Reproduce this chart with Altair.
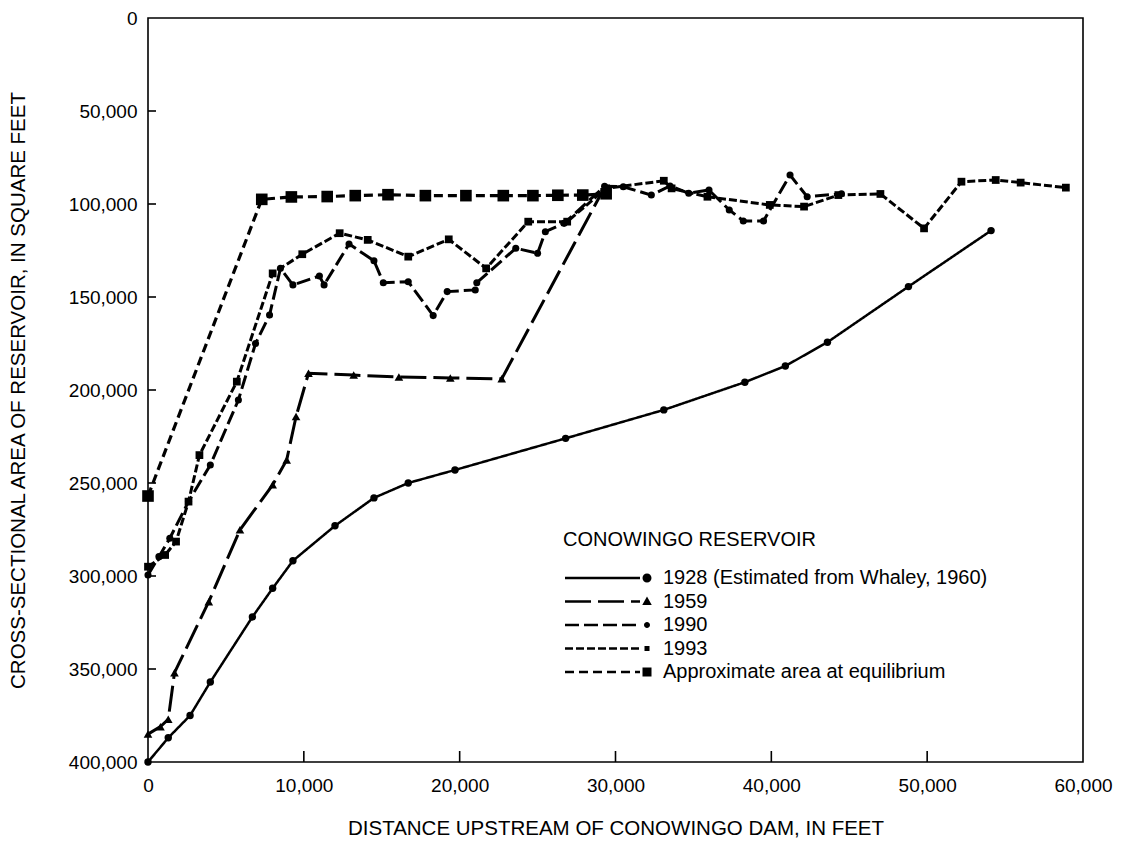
import altair as alt
import pandas as pd

# ---------------- data ----------------
names = [
    "1928 (Estimated from Whaley, 1960)",
    "1959",
    "1990",
    "1993",
    "Approximate area at equilibrium",
]

x1928 = [0, 1300, 2700, 4000, 6700, 8000, 9300, 12000, 14500, 16700, 19700,
         26800, 33100, 38300, 40900, 43600, 48800, 54100]
y1928 = [400000, 387000, 375000, 357000, 322000, 306600, 291800, 273000, 258000,
         250000, 243000, 226000, 210700, 195800, 187100, 174300, 144400, 114300]

x1959 = [0, 800, 1300, 1700, 3900, 5900, 8000, 8900, 9500, 10300, 13200, 16100,
         19400, 22700, 29300]
y1959 = [385000, 381000, 377000, 352000, 313800, 275200, 251000, 237600, 214300,
         191000, 192000, 193000, 193500, 194000, 91000]

x1990 = [0, 700, 1400, 2600, 4000, 5800, 6900, 7800, 8500, 9300, 11000, 11300,
         12900, 14500, 15100, 16700, 18300, 19200, 21000, 21100, 23600, 25000,
         25500, 26700, 29300, 30500, 32300, 33500, 34700, 36000, 37300, 38200,
         39500, 41200, 42300, 44500]
y1990 = [299500, 289600, 279700, 260000, 240300, 205400, 175000, 159700, 134600,
         143500, 138700, 143500, 121500, 130500, 142300, 141800, 160000, 147100,
         146200, 142300, 123800, 126500, 114900, 110400, 90500, 90700, 95200,
         90300, 94200, 92500, 103200, 109100, 109100, 84400, 96100, 94500]

x1993 = [0, 1100, 1800, 2600, 3300, 5700, 8000, 9900, 12300, 14100, 16700, 19300,
         21700, 24400, 26900, 29400, 33100, 33600, 35900, 39900, 42100, 44300,
         47000, 49800, 52200, 54400, 56000, 58900]
y1993 = [295000, 288700, 281500, 260000, 235000, 195500, 137300, 127000, 115700,
         119300, 128300, 119000, 134600, 109500, 109500, 91600, 87500, 91600,
         96100, 100500, 101400, 95200, 94600, 113100, 88000, 87100, 88500, 91200]

xEq = [0, 7300, 9200, 11500, 13300, 15400, 17800, 20400, 22800, 24700, 26300,
       27900, 29400]
yEq = [257000, 97500, 96200, 96000, 95500, 95000, 95500, 95500, 95500, 95500,
       95300, 95200, 94500]

x_ticks = [0, 10000, 20000, 30000, 40000, 50000, 60000]
y_ticks = [0, 50000, 100000, 150000, 200000, 250000, 300000, 350000, 400000]

# ---------------- build table ----------------
frames = []
for nm, xs, ys in zip(names, [x1928, x1959, x1990, x1993, xEq],
                      [y1928, y1959, y1990, y1993, yEq]):
    frames.append(pd.DataFrame({"x": xs, "y": ys, "series": nm}))
df = pd.concat(frames, ignore_index=True)

FONT = "Liberation Sans"
W, H = 935, 744

xscale = alt.Scale(domain=[0, 60000], nice=False, zero=False)
yscale = alt.Scale(domain=[0, 400000], reverse=True, nice=False)

X = alt.X("x:Q", scale=xscale,
          axis=alt.Axis(values=x_ticks, format=",.0f", title="DISTANCE UPSTREAM OF CONOWINGO DAM, IN FEET",
                        grid=False, domain=False, ticks=False, labelFlush=False,
                        labelFontSize=19, labelPadding=14, labelColor="black",
                        titleFontSize=20.5, titleFontWeight="normal", titleColor="black",
                        titleX=W / 2, titleY=66, titleBaseline="middle"))
Y = alt.Y("y:Q", scale=yscale,
          axis=alt.Axis(values=y_ticks, format=",.0f", title="CROSS-SECTIONAL AREA OF RESERVOIR, IN SQUARE FEET",
                        grid=False, domain=False, ticks=False, labelFlush=False,
                        labelFontSize=19, labelPadding=11, labelColor="black",
                        titleFontSize=20.5, titleFontWeight="normal", titleColor="black",
                        titleX=-130, titleY=H / 2, titleBaseline="middle", titleAngle=270))

# line styles: dash, width, marker shape, marker size
styles = {
    names[0]: ([1, 0], 2.5, "circle", 55),
    names[1]: ([26, 7], 3.0, "triangle-up", 75),
    names[2]: ([14, 5], 3.0, "circle", 50),
    names[3]: ([8, 3], 3.0, "square", 60),
    names[4]: ([9, 5], 3.2, "square", 135),
}

layers = []
for nm in names:
    dash, w, shp, sz = styles[nm]
    sub = alt.Chart(df).transform_filter(alt.datum.series == nm)
    layers.append(sub.mark_line(color="black", strokeWidth=w, strokeDash=dash).encode(x=X, y=Y))
for nm in names:
    dash, w, shp, sz = styles[nm]
    sub = alt.Chart(df).transform_filter(alt.datum.series == nm)
    layers.append(sub.mark_point(color="black", filled=True, shape=shp, size=sz, opacity=1).encode(x=X, y=Y))

# inward ticks on the frame
ytick_df = pd.DataFrame({"y": y_ticks[1:-1]})
xtick_df = pd.DataFrame({"x": x_ticks[1:-1]})
layers.append(alt.Chart(ytick_df).mark_rule(color="black", strokeWidth=1.6)
              .encode(y=Y, x=alt.value(0), x2=alt.value(8)))
layers.append(alt.Chart(xtick_df).mark_rule(color="black", strokeWidth=1.6)
              .encode(x=X, y=alt.value(H), y2=alt.value(H - 11)))

# legend symbols: dashed line sample (as filled bars) + marker, one path per entry
U = 5.0  # px per path unit for symbolSize 100


def rect(x0, x1, h):
    return f"M{x0:.3f},{-h:.3f}L{x1:.3f},{-h:.3f}L{x1:.3f},{h:.3f}L{x0:.3f},{h:.3f}Z"


def dash_path(pattern, width, start=-1.6, length=75.0):
    h = width / 2 / U
    if pattern[1] == 0:
        return rect(start, start + length / U, h)
    parts, pos, i = [], 0.0, 0
    while pos < length:
        on, off = pattern[i % len(pattern)], pattern[(i + 1) % len(pattern)]
        end = min(pos + on, length)
        parts.append(rect(start + pos / U, start + end / U, h))
        pos += on + off
        i += 2
    return "".join(parts)


mc = 14.8  # marker centre in path units
markers = [
    f"M{mc+0.9},0A0.9,0.9,0,1,1,{mc-0.9},0A0.9,0.9,0,1,1,{mc+0.9},0Z",
    f"M{mc},-1L{mc+0.95},0.7L{mc-0.95},0.7Z",
    f"M{mc+0.6},0A0.6,0.6,0,1,1,{mc-0.6},0A0.6,0.6,0,1,1,{mc+0.6},0Z",
    f"M{mc-0.5},-0.5L{mc+0.5},-0.5L{mc+0.5},0.5L{mc-0.5},0.5Z",
    f"M{mc-0.9},-0.9L{mc+0.9},-0.9L{mc+0.9},0.9L{mc-0.9},0.9Z",
]
leg_paths = [dash_path(styles[nm][0], min(styles[nm][1], 2.6)) + mk for nm, mk in zip(names, markers)]

legend = alt.Legend(
    title="CONOWINGO RESERVOIR", orient="none", legendX=415, legendY=512,
    titleFontSize=20, titleFontWeight="normal", titleColor="black", titlePadding=18,
    titleLimit=800,
    labelFontSize=20, labelColor="black", labelLimit=800, labelOffset=80,
    symbolSize=100, symbolStrokeWidth=0, symbolFillColor="black",
    symbolOpacity=1, rowPadding=3.5, padding=0,
)
legend_layer = (alt.Chart(df).transform_filter("false")
                .mark_point(filled=True, color="black", opacity=1)
                .encode(shape=alt.Shape("series:N", scale=alt.Scale(domain=names, range=leg_paths), legend=legend)))
layers.append(legend_layer)

chart = (alt.layer(*layers)
         .properties(width=W, height=H,
                     padding={"left": 148, "top": 18, "right": 46, "bottom": 80},
                     autosize=alt.AutoSizeParams(type="none"),
                     background="white")
         .configure(font=FONT)
         .configure_view(stroke="black", strokeWidth=1.6))

chart.save("out.html", embed_options={"renderer": "svg", "actions": False})
